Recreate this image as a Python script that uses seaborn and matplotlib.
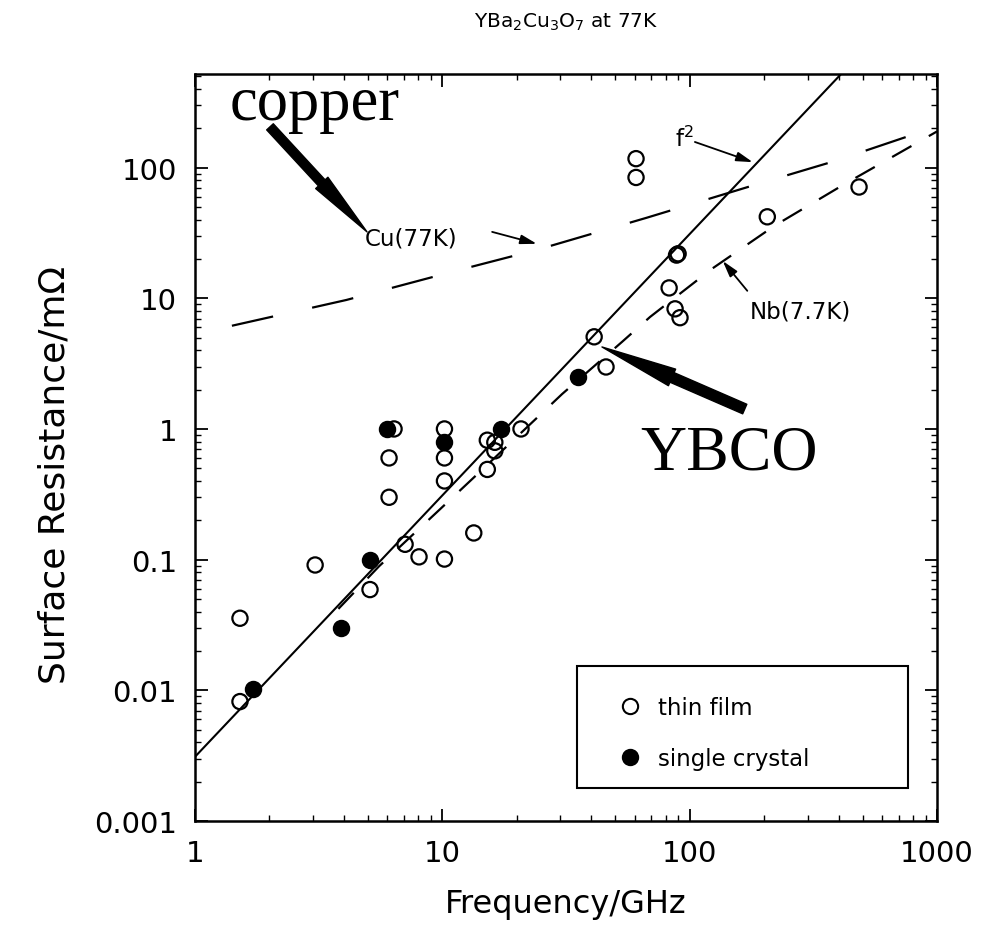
import numpy as np
import pandas as pd
import matplotlib
matplotlib.use("Agg")
import matplotlib.pyplot as plt
import seaborn as sns
from matplotlib.lines import Line2D
from matplotlib.patches import FancyArrowPatch, Rectangle, ArrowStyle
from matplotlib.ticker import FixedLocator, FixedFormatter, LogLocator, NullFormatter

# ---------------- data ----------------
thin_film_f = [1.52, 1.52, 3.06, 5.1, 6.09, 6.09, 6.38, 7.07, 8.05, 10.2, 10.2, 10.2,
               10.2, 13.4, 15.2, 15.2, 16.3, 16.3, 20.8, 41.1, 45.9, 60.7, 60.7,
               82.6, 87.3, 89.8, 88.5, 91.4, 206, 484]
thin_film_R = [0.0356, 0.0082, 0.091, 0.059, 0.30, 0.60, 1.0, 0.131, 0.105, 0.101, 0.40, 0.60,
               1.0, 0.16, 0.49, 0.82, 0.79, 0.68, 1.0, 5.07, 2.98, 117, 84,
               12.0, 8.3, 21.9, 21.4, 7.1, 42, 71]
crystal_f = [1.72, 3.89, 5.1, 5.98, 10.2, 17.3, 35.4]
crystal_R = [0.0102, 0.030, 0.10, 1.0, 0.8, 1.0, 2.5]

fit_f = [1.0, 500.0]          # f^2 line
fit_R = [0.0031, 775.0]
cu_f = [1.41, 4.09, 11.9, 24.2, 67, 190, 385, 1000]     # Cu(77K)
cu_R = [6.16, 9.7, 16.6, 23.5, 41.3, 75.2, 112, 206]
nb_f = [3.8, 5.55, 10.6, 13.6, 30.5, 53.3, 69.2, 123, 221, 413, 1000]   # Nb(7.7K)
nb_R = [0.042, 0.089, 0.28, 0.436, 1.85, 4.64, 7.2, 16.8, 36, 72.8, 189]

x_ticks = [1, 10, 100, 1000]
x_tick_labels = ["1", "10", "100", "1000"]
y_ticks = [0.001, 0.01, 0.1, 1, 10, 100]
y_tick_labels = ["0.001", "0.01", "0.1", "1", "10", "100"]

# ---------------- figure ----------------
sns.set_theme(style="ticks")
plt.rcParams["font.family"] = ["DejaVu Sans"]
plt.rcParams["mathtext.fontset"] = "dejavusans"

W, H = 982, 953
fig = plt.figure(figsize=(W / 100, H / 100), dpi=100)
fig.patch.set_facecolor("white")
ax = fig.add_axes([195 / W, 1 - 822 / H, 742 / W, 747 / H])
ax.set_facecolor("white")
ax.set_xscale("log")
ax.set_yscale("log")
ax.set_xlim(1, 1000)
ax.set_ylim(0.001, 520)

# lines
sns.lineplot(x=fit_f, y=fit_R, ax=ax, color="black", lw=1.5, sort=False, estimator=None)
sns.lineplot(x=cu_f, y=cu_R, ax=ax, color="black", lw=1.6, sort=False, estimator=None)
ax.lines[-1].set_dashes((19, 18))
sns.lineplot(x=nb_f, y=nb_R, ax=ax, color="black", lw=1.6, sort=False, estimator=None)
ax.lines[-1].set_dashes((10, 9))

# points
tf = pd.DataFrame({"f": thin_film_f, "R": thin_film_R})
sc = pd.DataFrame({"f": crystal_f, "R": crystal_R})
sns.scatterplot(data=tf, x="f", y="R", ax=ax, s=120, marker="o", color="black",
                linewidth=1.6, legend=False, zorder=3)
ax.collections[-1].set_facecolor("none")
ax.collections[-1].set_edgecolor("black")
sns.scatterplot(data=sc, x="f", y="R", ax=ax, s=120, marker="o", color="black",
                edgecolor="black", linewidth=1.6, legend=False, zorder=4)

# axes styling
for sp in ax.spines.values():
    sp.set_linewidth(1.8)
    sp.set_color("black")
ax.xaxis.set_major_locator(FixedLocator(x_ticks))
ax.xaxis.set_major_formatter(FixedFormatter(x_tick_labels))
ax.yaxis.set_major_locator(FixedLocator(y_ticks))
ax.yaxis.set_major_formatter(FixedFormatter(y_tick_labels))
ax.xaxis.set_minor_locator(LogLocator(base=10, subs=np.arange(2, 10)))
ax.yaxis.set_minor_locator(LogLocator(base=10, subs=np.arange(2, 10)))
ax.xaxis.set_minor_formatter(NullFormatter())
ax.yaxis.set_minor_formatter(NullFormatter())
ax.tick_params(which="both", direction="in", top=True, right=True, colors="black")
ax.tick_params(which="major", length=9, width=1.3, pad=13, labelsize=21)
ax.tick_params(which="minor", length=4.5, width=1.0)
ax.set_xlabel("")
ax.set_ylabel("")

# labels and title
fig.text(566 / W, 1 - 22 / H, r"YBa$_2$Cu$_3$O$_7$ at 77K", ha="center", va="center",
         fontsize=14.5, color="black")
fig.text(566 / W, 1 - 905 / H, "Frequency/GHz", ha="center", va="center",
         fontsize=23, color="black")
fig.text(55 / W, 1 - 475 / H, "Surface Resistance/m\u03a9", ha="center", va="center",
         rotation=90, fontsize=26, color="black")

# big annotations
ax.text(1.385, 236, "copper", family="Liberation Serif", fontsize=45, ha="left",
        va="baseline", color="black")
ax.text(63, 0.494, "YBCO", family="Liberation Serif", fontsize=46, ha="left",
        va="baseline", color="black")
ax.add_patch(FancyArrowPatch((2.01, 205), (4.96, 32.2),
             arrowstyle=ArrowStyle.Simple(head_length=48, head_width=12, tail_width=6.5),
             mutation_scale=1, color="black", shrinkA=0, shrinkB=0, zorder=5))
ax.add_patch(FancyArrowPatch((167, 1.42), (44.2, 4.24),
             arrowstyle=ArrowStyle.Simple(head_length=55, head_width=13, tail_width=7.5),
             mutation_scale=1, color="black", shrinkA=0, shrinkB=0, zorder=5))

# small labels with arrows
small = dict(fontsize=16.5, color="black")
ax.text(4.87, 29.0, "Cu(77K)", ha="left", va="center", **small)
ax.text(87.3, 146, r"f$^\mathregular{2}$", ha="left", va="baseline", **small)
ax.text(175, 8.0, "Nb(7.7K)", ha="left", va="center", **small)
aprops = dict(arrowstyle="-|>,head_length=0.7,head_width=0.2", color="black", lw=1.3,
              mutation_scale=14, shrinkA=0, shrinkB=0)
ax.annotate("", xy=(24.1, 26.1), xytext=(15.9, 32.2), arrowprops=aprops)
ax.annotate("", xy=(180, 110), xytext=(105, 157), arrowprops=aprops)
ax.annotate("", xy=(136, 19.3), xytext=(171, 11.4), arrowprops=aprops)

# legend
ax.add_patch(Rectangle((0.515, 0.0442), 0.446, 0.1633, transform=ax.transAxes,
                       fill=False, edgecolor="black", lw=1.5, zorder=6))
handles = [Line2D([], [], ls="", marker="o", ms=11, mfc="none", mec="black", mew=1.5),
           Line2D([], [], ls="", marker="o", ms=11, mfc="black", mec="black", mew=1.5)]
leg = ax.legend(handles, ["thin film", "single crystal"], loc="center left",
                bbox_to_anchor=(0.555, 0.118), frameon=False, fontsize=16.5,
                labelspacing=1.25, handletextpad=0.75, handlelength=1.0, borderpad=0)
for t in leg.get_texts():
    t.set_color("black")

fig.savefig("out.png", dpi=100, facecolor="white")
